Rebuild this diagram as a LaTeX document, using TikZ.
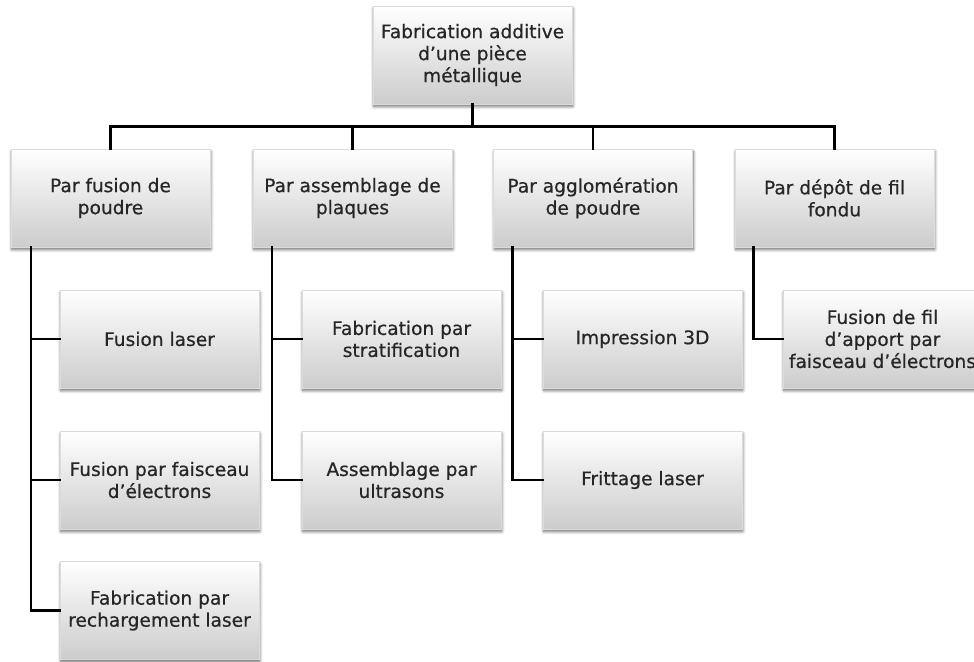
\documentclass[tikz,border=0pt]{standalone}
\usepackage{fontspec}
\setmainfont{DejaVu Sans}[FakeBold=0.6]
\usetikzlibrary{shadows.blur}
\begin{document}
\begin{tikzpicture}[x=1pt,y=-1pt,
  box/.style={rectangle, minimum width=199pt, minimum height=98pt, inner sep=2pt,
    align=center, text=black!85, draw=black!14, line width=0.4pt,
    top color=white, bottom color=black!20,
    font=\fontsize{18.6}{22}\selectfont,
    blur shadow={shadow xshift=0.8pt, shadow yshift=-2.5pt, shadow blur radius=3pt, shadow blur steps=6, shadow opacity=60}},
  conn/.style={line width=2.6pt, black, line cap=rect}]
\useasboundingbox (0,0) rectangle (974,661);
% root
\node[box] (top) at (472.5,55) {Fabrication additive\\d’une pièce\\métallique};
% level 1
\node[box] (p1) at (110.5,198) {Par fusion de\\poudre};
\node[box] (p2) at (352.5,198) {Par assemblage de\\plaques};
\node[box] (p3) at (593,198) {Par agglomération\\de poudre};
\node[box] (p4) at (834.5,198) {Par dépôt de fil\\fondu};
% children
\node[box] (c11) at (159.5,339) {Fusion laser};
\node[box] (c12) at (159.5,480) {Fusion par faisceau\\d’électrons};
\node[box] (c13) at (159.5,610.5) {Fabrication par\\rechargement laser};
\node[box] (c21) at (401.5,339) {Fabrication par\\stratification};
\node[box] (c22) at (401.5,480) {Assemblage par\\ultrasons};
\node[box] (c31) at (642.5,339) {Impression 3D};
\node[box] (c32) at (642.5,480) {Frittage laser};
\node[box] (c41) at (882.5,339) {Fusion de fil\\d’apport par\\faisceau d’électrons};
% connectors root -> level 1
\coordinate (bar) at (472.5,126.5);
\draw[conn] (top.south) -- (bar);
\draw[conn] (p1.north) |- (bar) -| (p4.north);
\draw[conn] (p2.north) -- (p2.north |- bar);
\draw[conn] (p3.north) -- (p3.north |- bar);
% level 1 -> children
\draw[conn] ([xshift=20pt]p1.south west) |- (c13.west);
\draw[conn] ([xshift=20pt]p1.south west |- c11.west) -- (c11.west);
\draw[conn] ([xshift=20pt]p1.south west |- c12.west) -- (c12.west);
\draw[conn] ([xshift=19pt]p2.south west) |- (c22.west);
\draw[conn] ([xshift=19pt]p2.south west |- c21.west) -- (c21.west);
\draw[conn] ([xshift=19pt]p3.south west) |- (c32.west);
\draw[conn] ([xshift=19pt]p3.south west |- c31.west) -- (c31.west);
\draw[conn] ([xshift=18.5pt]p4.south west) |- (c41.west);
\end{tikzpicture}
\end{document}
